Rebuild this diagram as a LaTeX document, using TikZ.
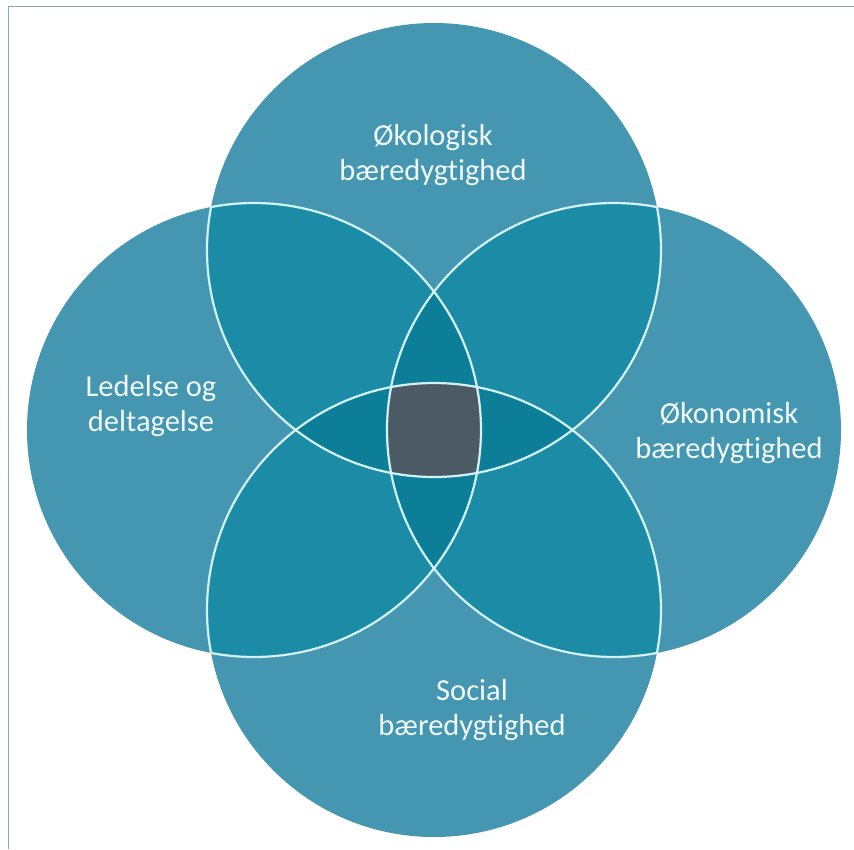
\documentclass[tikz,border=0pt]{standalone}
\usepackage{fontspec}
\setmainfont{Carlito}[Ligatures=NoCommon]
\definecolor{cone}{RGB}{69,150,176}
\definecolor{ctwo}{RGB}{27,139,166}
\definecolor{cthree}{RGB}{12,126,152}
\definecolor{cfour}{RGB}{76,90,102}
\definecolor{cline}{RGB}{210,242,248}
\definecolor{cframe}{RGB}{138,166,174}
\definecolor{ctext}{RGB}{240,250,252}
\tikzset{
  lbl/.style={text=ctext, align=center, inner sep=0pt, font=\fontsize{30.5}{35}\selectfont},
  ring/.style={draw=cline, line width=2.2pt},
}
\begin{document}
\begin{tikzpicture}[x=1pt,y=-1pt]
\useasboundingbox (0,0) rectangle (854,849);
\fill[white] (0,0) rectangle (854,849);
\draw[cframe, line width=1pt] (8,849) -- (8,6.5) -- (854,6.5);
\coordinate (O) at (434,430);
\coordinate (T) at (434,250);
\coordinate (B) at (434,610);
\coordinate (L) at (254,430);
\coordinate (R) at (614,430);
\def\rad{227pt}
% single
\foreach \c in {T,B,L,R} \fill[cone] (\c) circle (\rad);
% pairs
\foreach \a/\b in {T/B,T/L,T/R,B/L,B/R,L/R}{
  \begin{scope}
    \clip (\a) circle (\rad);
    \fill[ctwo] (\b) circle (\rad);
  \end{scope}
}
% triples
\foreach \a/\b/\c in {T/L/R,B/L/R,T/B/L,T/B/R}{
  \begin{scope}
    \clip (\a) circle (\rad);
    \clip (\b) circle (\rad);
    \fill[cthree] (\c) circle (\rad);
  \end{scope}
}
% quadruple
\begin{scope}
  \clip (T) circle (\rad);
  \clip (B) circle (\rad);
  \clip (L) circle (\rad);
  \fill[cfour] (R) circle (\rad);
\end{scope}
% outlines, only where they lie inside another circle
\foreach \c/\p/\q/\r in {T/B/L/R,B/T/L/R,L/T/B/R,R/T/B/L}{
  \begin{scope}
    \clip (\p) circle (\rad) (\q) circle (\rad) (\r) circle (\rad);
    \draw[ring] (\c) circle (\rad);
  \end{scope}
}
\node[lbl] (top) at (433,155) {Økologisk\\bæredygtighed};
\node[lbl] (right) at (729,433) {Økonomisk\\bæredygtighed};
\node[lbl] (left) at (151,406) {Ledelse og\\deltagelse};
\node[lbl] (bottom) at (472,710) {Social\\bæredygtighed};
\end{tikzpicture}
\end{document}
